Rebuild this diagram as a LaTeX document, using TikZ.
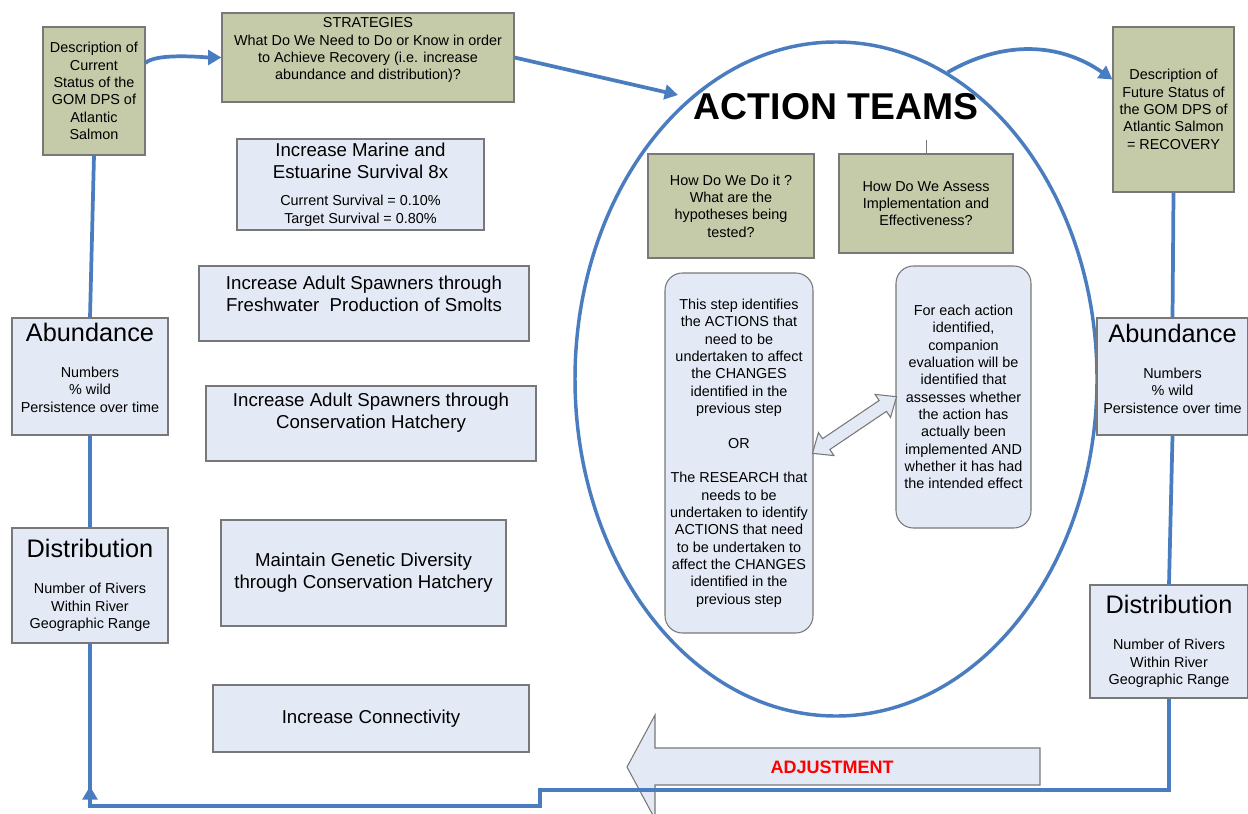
\documentclass[tikz,border=0pt]{standalone}
\usepackage{fontspec}
\setmainfont{Liberation Sans}
\usetikzlibrary{shapes.geometric,shapes.arrows,arrows.meta,calc,decorations.markings}
\definecolor{olv}{RGB}{197,202,168}
\definecolor{pale}{RGB}{228,234,245}
\definecolor{edge}{RGB}{120,120,120}
\definecolor{flw}{RGB}{74,125,192}
\tikzset{
    sz/.style 2 args={minimum width=#1*0.75pt,minimum height=#2*0.75pt},
    gbox/.style={draw=edge,fill=olv,line width=0.8pt,align=center,inner sep=1pt,font=\fontsize{10.8}{13}\selectfont},
    bbox/.style={draw=edge,fill=pale,line width=0.8pt,align=center,inner sep=1pt,font=\fontsize{14}{16.5}\selectfont},
    mbox/.style={bbox,font=\fontsize{10.8}{13}\selectfont},
    rbox/.style={mbox,rounded corners=13pt},
    flow/.style={flw,line width=2.8pt},
    tip/.style={-{Triangle[length=10pt,width=11pt]}}
}

\begin{document}
\begin{tikzpicture}[x=0.75pt,y=-0.75pt]
        \def\hd{\fontsize{19}{22}\selectfont}
        \def\md{\fontsize{14}{16.5}\selectfont}
        \useasboundingbox (0,0) rectangle (1248,813);
        \node [ellipse,draw=flw,line width=2.6pt,sz={522}{674},inner sep=0pt] (team) at (836,379) {};
        \node [font=\bfseries\fontsize{28}{32}\selectfont] (title) at (836,107) {ACTION TEAMS};
        \node [gbox,sz={102}{128}] (cur) at (94,91) {Description of\\Current\\Status of the\\GOM DPS of\\Atlantic\\Salmon};
        \node [gbox,sz={292}{89},text depth=13pt] (strat) at (368,57.5) {STRATEGIES\\What Do We Need to Do or Know in order\\to Achieve Recovery (i.e. increase\\abundance and distribution)?};
        \node [mbox,sz={247}{91}] (mar) at (360.5,184.5) {{\md Increase Marine and}\\[3.5pt]{\md Estuarine Survival 8x}\\[7.6pt]Current Survival = 0.10\%\\Target Survival = 0.80\%};
        \node [bbox,sz={330}{75},text depth=14.3pt] (fresh) at (364,303.5) {Increase Adult Spawners through\\Freshwater~ Production of Smolts};
        \node [bbox,sz={330}{75},text depth=18.6pt] (hat) at (371,423.5) {Increase Adult Spawners through\\Conservation Hatchery};
        \node [bbox,sz={285}{106}] (gen) at (363.5,573) {Maintain Genetic Diversity\\through Conservation Hatchery};
        \node [bbox,sz={316}{67}] (con) at (371,718.5) {Increase Connectivity};
        \node [mbox,sz={156}{117},text depth=13.5pt] (labd) at (90,376.5) {{\hd Abundance}\\[14pt]Numbers\\\% wild\\Persistence over time};
        \node [mbox,sz={156}{115}] (ldist) at (90,585.5) {{\hd Distribution}\\[14pt]Number of Rivers\\Within River\\Geographic Range};
        \node [gbox,sz={121}{165}] (fut) at (1173.5,109.5) {Description of\\Future Status of\\the GOM DPS of\\Atlantic Salmon\\= RECOVERY};
        \node [mbox,sz={151}{117},text depth=12pt] (rabd) at (1172.5,376.5) {{\hd Abundance}\\[14pt]Numbers\\\% wild\\Persistence over time};
        \node [mbox,sz={158}{113}] (rdist) at (1169,641.5) {{\hd Distribution}\\[14pt]Number of Rivers\\Within River\\Geographic Range};
        \node [gbox,sz={166}{104}] (how) at (731,206) {How Do We Do it ?\\What are the\\hypotheses being\\tested?};
        \node [gbox,sz={174}{99}] (assess) at (926,203.5) {How Do We Assess\\Implementation and\\Effectiveness?};
        \node [rbox,sz={148}{360}] (step) at (739,453) {This step identifies\\the ACTIONS that\\need to be\\undertaken to affect\\the CHANGES\\identified in the\\previous step\\[13pt]OR\\[13pt]The RESEARCH that\\needs to be\\undertaken to identify\\ACTIONS that need\\to be undertaken to\\affect the CHANGES\\identified in the\\previous step};
        \node [rbox,sz={135}{262}] (eval) at (963.5,397) {For each action\\identified,\\companion\\evaluation will be\\identified that\\assesses whether\\the action has\\actually been\\implemented AND\\whether it has had\\the intended effect};
        \node [double arrow,draw=edge,fill=pale,line width=0.8pt,inner xsep=0pt,inner ysep=4.5pt,minimum height=76pt,
            double arrow head extend=5.5pt,double arrow tip angle=80,rotate=34] (link) at ($(step.east)!0.5!(eval.west)$) {};
        \filldraw [draw=edge,fill=pale,line width=0.8pt] (627,767) -- (655,715) -- (655,748) -- (1040,748)
            -- (1040,785) -- (655,785) -- (655,819) -- cycle;
        \node [text=red,font=\bfseries\fontsize{13.5}{16}\selectfont] (adj) at (832,767) {ADJUSTMENT};
        \draw [edge,thin] (assess.north) -- ++(0,-13);
        \coordinate (atip) at (678,95);
        \coordinate (s1) at (540,790);
        \coordinate (s2) at (540,806);
        \draw [flow,tip] ([yshift=21pt]cur.east) to [out=45,in=180,looseness=0.5] (strat.west);
        \draw [flow,tip] (strat.east) -- (atip);
        \draw [flow,tip] (team.70) to [out=30,in=145] ([yshift=22.5pt]fut.west);
        \draw [flow] (cur.south) -- (labd.north);
        \draw [flow] (labd.south) -- (ldist.north);
        \draw [flow] (fut.south) -- (rabd.north);
        \draw [flow] (rabd.south) -- (rdist.north);
        \draw [flow,postaction={decorate},
            decoration={markings,mark=at position -107pt with {\arrow{Triangle[length=10pt,width=11pt]}}}]
            (rdist.south) |- (s1) -- (s2) -| (ldist.south);
    \end{tikzpicture}
\end{document}
